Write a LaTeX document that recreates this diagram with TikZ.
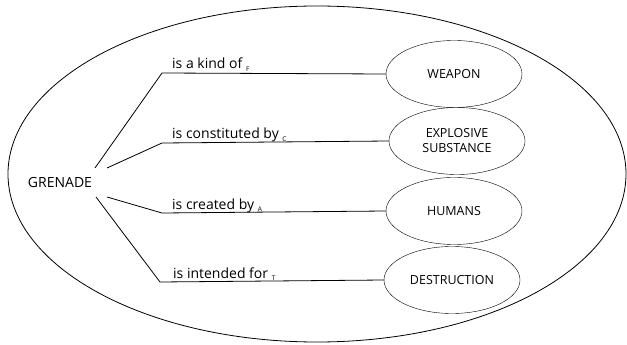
\documentclass[tikz,border=0pt]{standalone}
\usepackage{fontspec}
\setmainfont{Open Sans}
\usepackage{tikz}
\usetikzlibrary{shapes.geometric}

\tikzset{
  concept/.style={draw,ellipse,inner sep=0pt,minimum width=136pt,minimum height=67pt,align=center,font=\fontsize{12.5}{15}\selectfont},
  relation/.style={anchor=base west,inner sep=0pt,font=\fontsize{14}{16}\selectfont},
  link/.style={line width=0.8pt}
}
\newcommand{\rtag}[1]{\raisebox{-2.5pt}{\fontsize{6.5}{7}\selectfont #1}}

\begin{document}
\begin{tikzpicture}[x=1pt,y=-1pt]
        \useasboundingbox (0,0) rectangle (627,345);
        \draw[line width=0.8pt] (317,174) ellipse [x radius=309, y radius=168];
        \node[inner sep=0pt,font=\fontsize{14}{16}\selectfont] (grenade) at (60,182) {GRENADE};
        \node[concept] (weapon) at (454,74) {WEAPON};
        \node[concept] (explosive) at (457,141) {EXPLOSIVE\\SUBSTANCE};
        \node[concept] (humans) at (454,211) {HUMANS};
        \node[concept] (destruction) at (452,280) {DESTRUCTION};
        \coordinate (g1) at (95,168);
        \coordinate (g2) at (107,168);
        \coordinate (g3) at (107,197);
        \coordinate (g4) at (96,197);
        \coordinate (c1) at (162,73);
        \coordinate (c2) at (162,143);
        \coordinate (c3) at (162,213);
        \coordinate (c4) at (160,282);
        \draw[link] (g1) -- (c1) -- (weapon.west);
        \draw[link] (g2) -- (c2) -- (explosive.west);
        \draw[link] (g3) -- (c3) -- (humans.west);
        \draw[link] (g4) -- (c4) -- (destruction.west);
        \node[relation] (kindof) at (172,69) {is a kind of \rtag{F}};
        \node[relation] (constby) at (172,139) {is constituted by \rtag{C}};
        \node[relation] (createdby) at (172,209) {is created by \rtag{A}};
        \node[relation] (intendfor) at (173,278) {is intended for \rtag{T}};
    \end{tikzpicture}
\end{document}
